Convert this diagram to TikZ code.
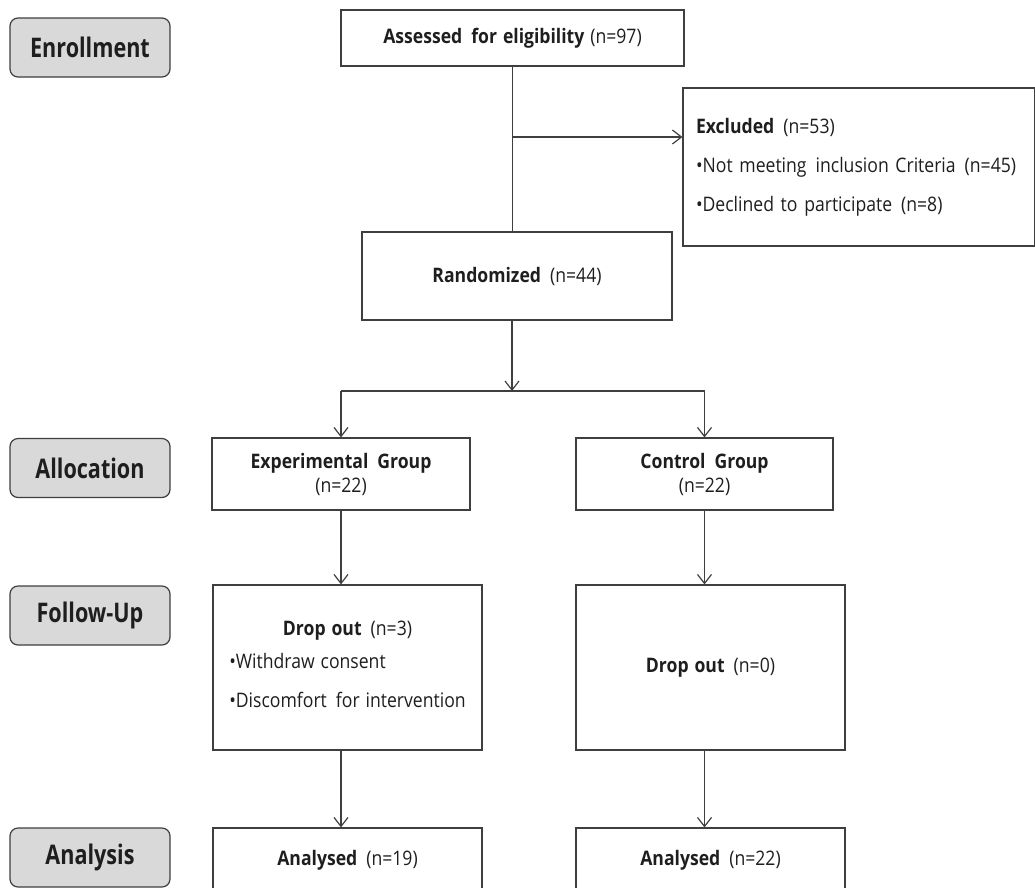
\documentclass[tikz,border=0pt]{standalone}
\usepackage{fontspec}
\setmainfont[FakeStretch=0.8]{Open Sans}
\newfontfamily\boxfont[FakeStretch=0.88,WordSpace=1.3]{Open Sans}
\usetikzlibrary{arrows.meta}
\definecolor{stagegray}{HTML}{D9D9D9}
\definecolor{linegray}{HTML}{3F3F3F}
\definecolor{textdark}{HTML}{1E1E1E}
\newcommand{\gap}{\hspace{9pt}}
\begin{document}
\begin{tikzpicture}[x=1pt,y=-1pt,
  stage/.style={draw=linegray,fill=stagegray,rounded corners=8pt,line width=1.2pt,
    minimum width=160pt,minimum height=59pt,font=\fontsize{27}{30}\selectfont\bfseries,text=textdark},
  flowbox/.style={draw=linegray,line width=1.2pt,inner sep=0pt,text=textdark,
    font=\boxfont\fontsize{20}{22}\selectfont},
  arr/.style={draw=linegray,line width=1.2pt,-{Straight Barb[length=9pt,width=14pt]}},
  ln/.style={draw=linegray,line width=1.2pt}]
\clip (0,0) rectangle (1035,887);
% stages
\node[stage] (enrol) at (90,47.5) {Enrollment};
\node[stage] (alloc) at (90,468) {Allocation};
\node[stage] (follow) at (90,615.5) {Follow-Up};
\node[stage] (analys) at (90,857.5) {Analysis};
% boxes
\node[flowbox,minimum width=343pt,minimum height=56pt] (assess) at (512.5,38)
  {\textbf{Assessed\gap for eligibility} (n=97)};
\node[flowbox,minimum width=352pt,minimum height=158pt,align=left,text width=326pt,
  inner xsep=13pt] (excl) at (859,167)
  {\textbf{Excluded}\gap(n=53)\\[17pt]
   \textbullet Not meeting\gap inclusion Criteria\gap(n=45)\\[17pt]
   \textbullet Declined to participate\gap(n=8)};
\node[flowbox,minimum width=310pt,minimum height=88pt] (rand) at (517,276)
  {\textbf{Randomized}\gap(n=44)};
\node[flowbox,minimum width=258pt,minimum height=72pt,align=center] (expg) at (341,474)
  {\textbf{Experimental\gap Group}\\[2pt](n=22)};
\node[flowbox,minimum width=257pt,minimum height=72pt,align=center] (ctrl) at (704.5,474)
  {\textbf{Control\gap Group}\\[2pt](n=22)};
\node[flowbox,minimum width=269pt,minimum height=165pt] (exdrop) at (347.5,667.5)
  {\begin{tabular}{@{}l@{}}
   \multicolumn{1}{@{}c@{}}{\textbf{Drop out}\gap(n=3)}\\[11pt]
   \textbullet Withdraw consent\\[17pt]
   \textbullet Discomfort\gap for intervention
   \end{tabular}};
\node[flowbox,minimum width=269pt,minimum height=165pt] (ctdrop) at (710.5,667.5)
  {\textbf{Drop out}\gap(n=0)};
\node[flowbox,minimum width=269pt,minimum height=70pt,text depth=10pt] (exana) at (347.5,863)
  {\textbf{Analysed}\gap(n=19)};
\node[flowbox,minimum width=269pt,minimum height=70pt,text depth=10pt] (ctana) at (710.5,863)
  {\textbf{Analysed}\gap(n=22)};
% connectors
\coordinate (exsplit) at (512,137);
\coordinate (branch) at (512,391);
\draw[ln] (assess.south) -- (assess.south |- rand.north);
\draw[arr] (exsplit) -- (exsplit -| excl.west);
\draw[arr] (rand.south -| branch) -- (branch);
\draw[ln] (expg.north |- branch) -- (ctrl.north |- branch);
\draw[arr] (expg.north |- branch) -- (expg.north);
\draw[arr] (ctrl.north |- branch) -- (ctrl.north);
\draw[arr] (expg.south) -- (expg.south |- exdrop.north);
\draw[arr] (ctrl.south) -- (ctrl.south |- ctdrop.north);
\draw[arr] (expg.south |- exdrop.south) -- (expg.south |- exana.north);
\draw[arr] (ctrl.south |- ctdrop.south) -- (ctrl.south |- ctana.north);
\end{tikzpicture}
\end{document}
